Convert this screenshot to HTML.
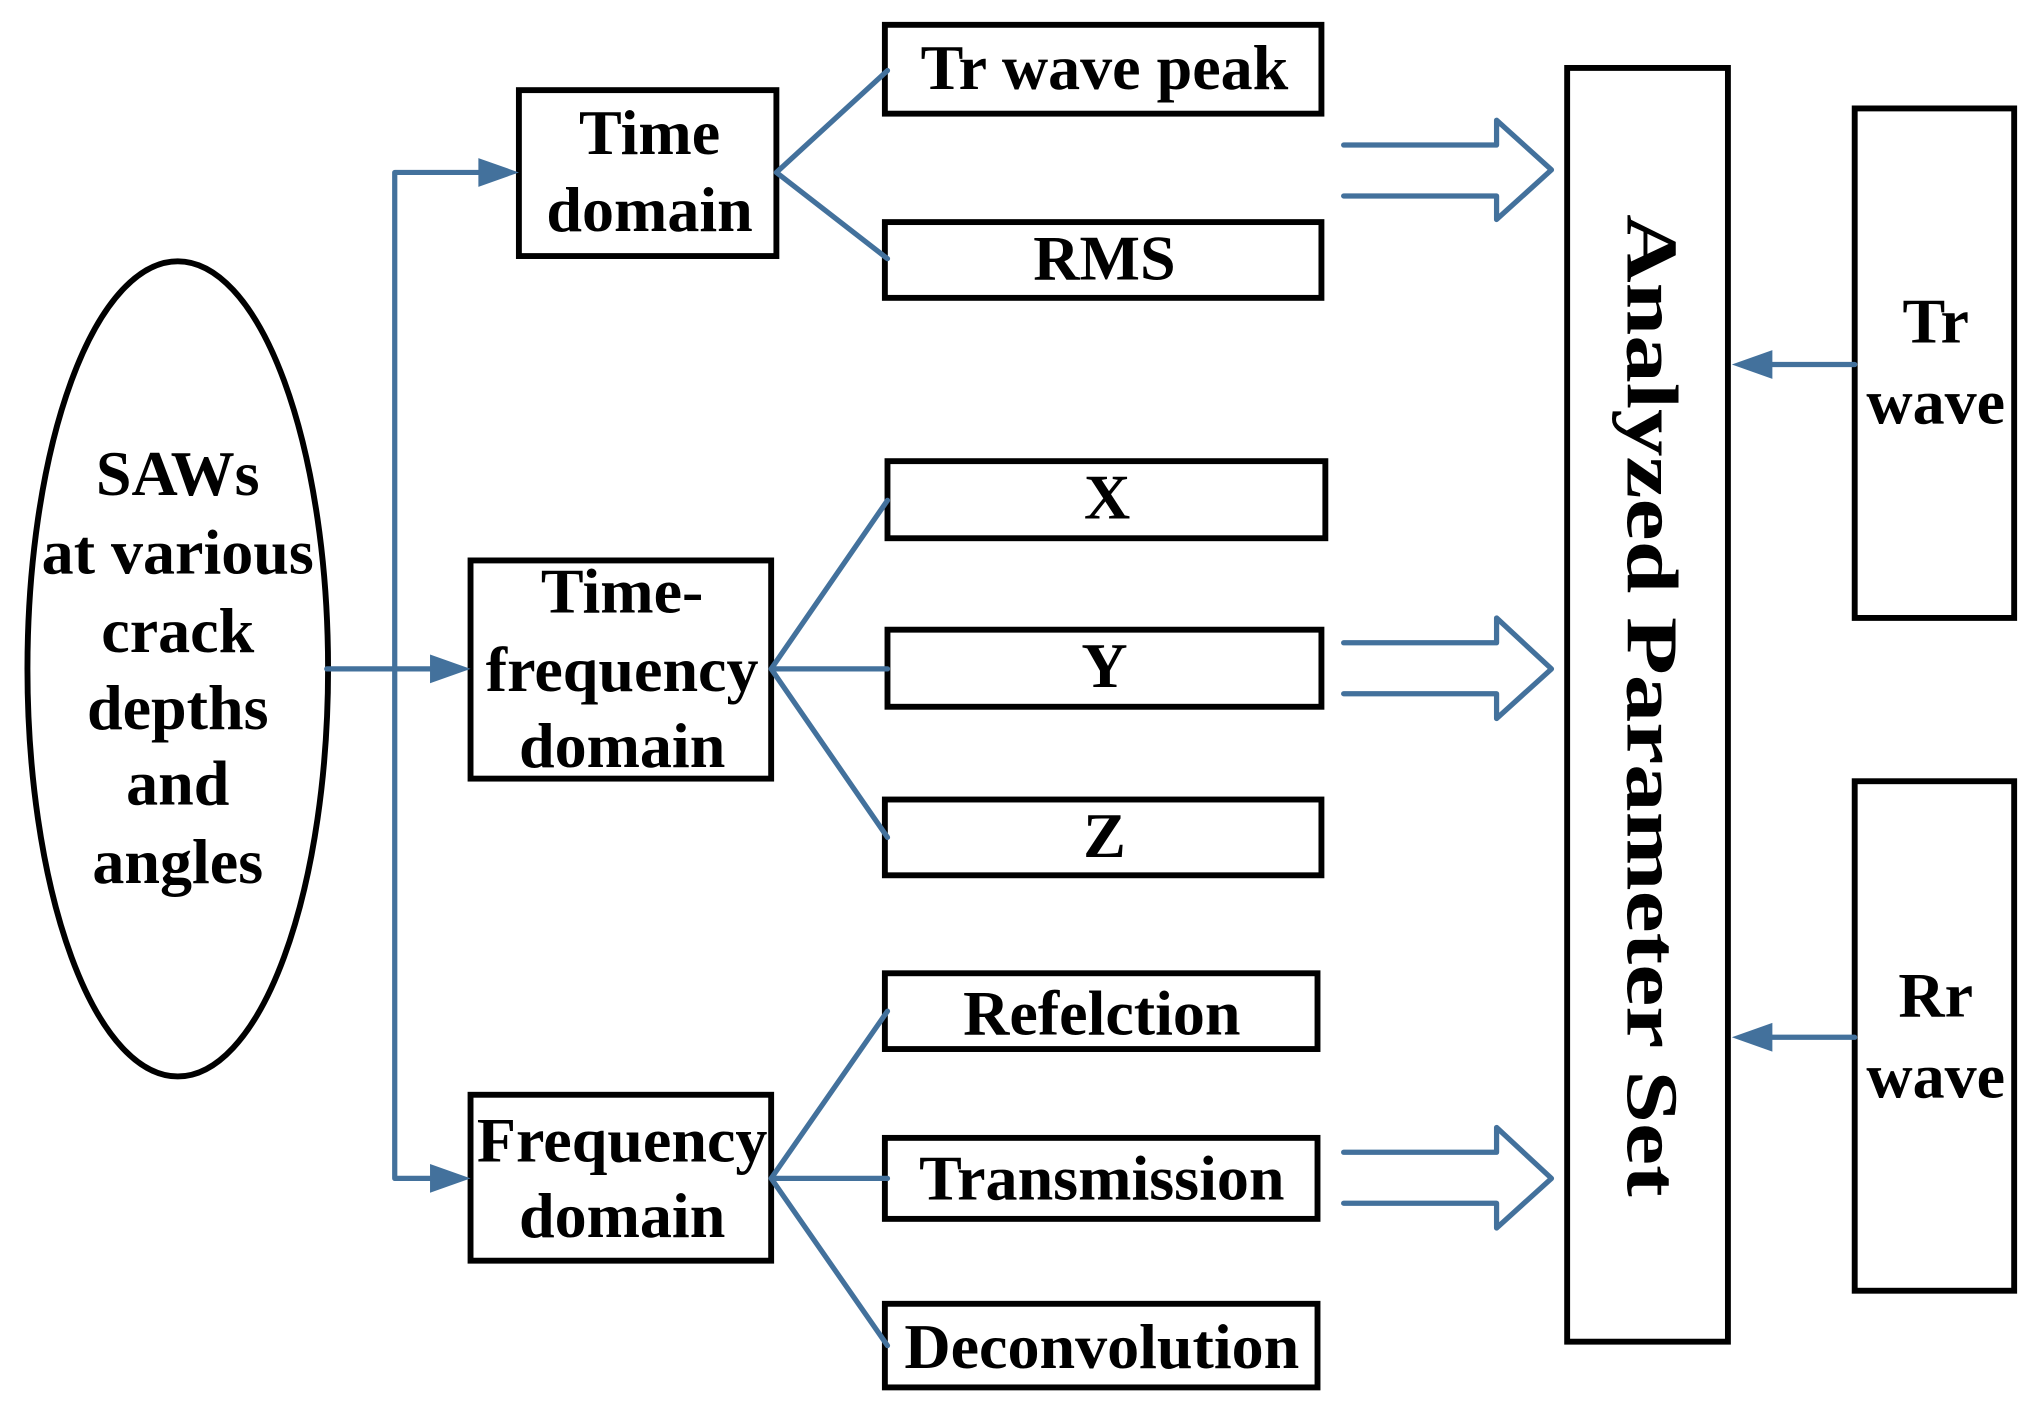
<!DOCTYPE html>
<html><head><meta charset="utf-8"><style>
html,body{margin:0;padding:0;background:#fff;}
svg{display:block;}
text{font-family:"Liberation Serif",serif;font-weight:bold;font-size:49px;fill:#000;text-anchor:middle;}
</style></head><body>
<svg width="2039" height="1407" viewBox="0 0 1560 1077" preserveAspectRatio="none" xmlns="http://www.w3.org/2000/svg">
<g fill="none" stroke="#000" stroke-width="4.5">
<ellipse cx="136" cy="512" rx="115" ry="312"/>
<rect x="397" y="69" width="197" height="127"/>
<rect x="360" y="429" width="230" height="167"/>
<rect x="360" y="838" width="230" height="127"/>
<rect x="677" y="19" width="334" height="68"/>
<rect x="677" y="170" width="334" height="58"/>
<rect x="679" y="353" width="335" height="59"/>
<rect x="679" y="482" width="332" height="59"/>
<rect x="677" y="612" width="334" height="58"/>
<rect x="677" y="745" width="331" height="58"/>
<rect x="677" y="871" width="331" height="62"/>
<rect x="677" y="998" width="331" height="64"/>
<rect x="1199" y="52" width="123" height="975"/>
<rect x="1419" y="83" width="122" height="390"/>
<rect x="1419" y="598" width="122" height="390"/>
</g>
<g fill="none" stroke="#43719c" stroke-width="4" stroke-linecap="round" stroke-linejoin="round">
<path d="M250 512 H335 M302 132 V902 M302 132 H372 M302 902 H335"/>
<path d="M594 132 L679 54 M594 132 L679 198"/>
<path d="M590 512 L679 383 M590 512 H679 M590 512 L679 641"/>
<path d="M590 902 L679 774 M590 902 H679 M590 902 L679 1030"/>
<path d="M1028 111 H1145 V92 L1187 130 L1145 168 V150 H1028"/>
<path d="M1028 492 H1145 V473 L1187 512 L1145 550 V531 H1028"/>
<path d="M1028 882 H1145 V863 L1187 902 L1145 940 V921 H1028"/>
<path d="M1419 279 H1350 M1419 794 H1350"/>
</g>
<g fill="#43719c">
<polygon points="397,132 366,121 366,143"/>
<polygon points="360,512 329,501 329,523"/>
<polygon points="360,902 329,891 329,913"/>
<polygon points="1325,279 1356,268 1356,290"/>
<polygon points="1325,794 1356,783 1356,805"/>
</g>
<text x="136" y="379">SAWs</text>
<text x="136" y="439">at various</text>
<text x="136" y="499">crack</text>
<text x="136" y="558">depths</text>
<text x="136" y="616">and</text>
<text x="136" y="676">angles</text>
<text x="497" y="118">Time</text>
<text x="497" y="177">domain</text>
<text x="476" y="469">Time-</text>
<text x="476" y="529">frequency</text>
<text x="476" y="587">domain</text>
<text x="476" y="889">Frequency</text>
<text x="476" y="947">domain</text>
<text x="845" y="68">Tr wave peak</text>
<text x="845" y="214">RMS</text>
<text x="847" y="397">X</text>
<text x="845" y="526">Y</text>
<text x="845" y="656">Z</text>
<text x="843" y="792">Refelction</text>
<text x="843" y="918">Transmission</text>
<text x="843" y="1047">Deconvolution</text>
<text x="1481" y="262">Tr</text>
<text x="1481" y="324">wave</text>
<text x="1481" y="778">Rr</text>
<text x="1481" y="840">wave</text>
<text transform="translate(1245,540) rotate(90)" style="font-size:56px" textLength="752" lengthAdjust="spacingAndGlyphs">Analyzed  Parameter  Set</text>
</svg>
</body></html>
